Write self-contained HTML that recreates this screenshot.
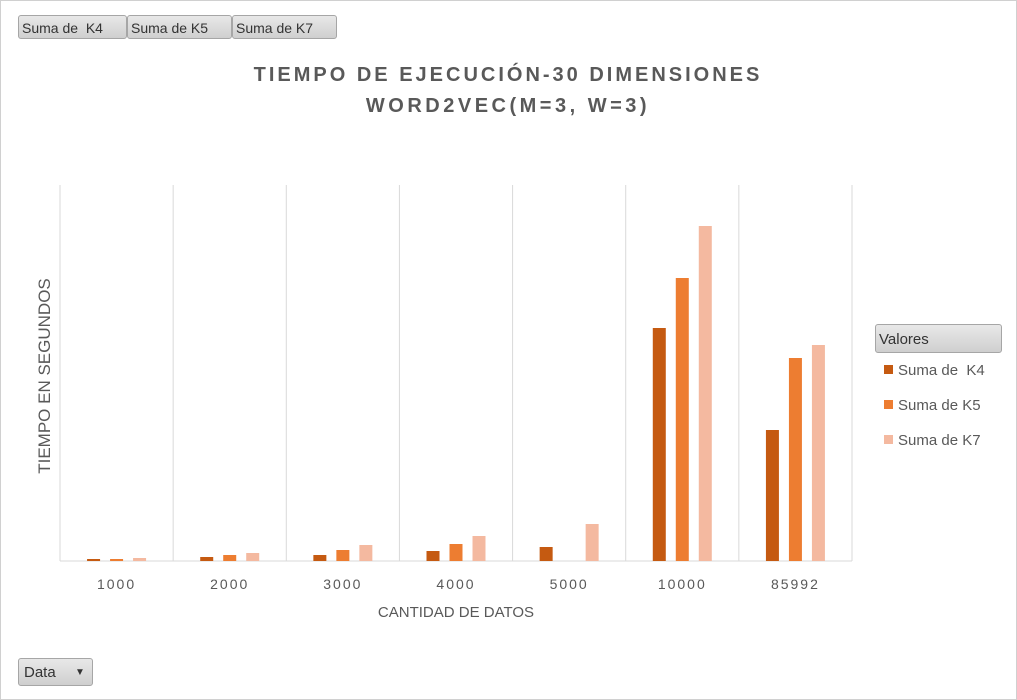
<!DOCTYPE html>
<html><head><meta charset="utf-8"><style>
body{margin:0;width:1017px;height:700px;background:#fff;font-family:"Liberation Sans",sans-serif;overflow:hidden}
#frame{position:absolute;left:0;top:0;width:1015px;height:698px;border:1px solid #d0d0d0}
.btn{position:absolute;height:24px;border:1px solid #a6a6a6;border-radius:3px;background:linear-gradient(#e8e8e8,#cfcfcf);font-size:14px;color:#333;line-height:24px;padding-left:3px;box-sizing:border-box}
</style></head><body>
<div id="frame"></div>
<div class="btn" style="left:18px;top:15px;width:109px">Suma de &nbsp;K4</div>
<div class="btn" style="left:127px;top:15px;width:105px">Suma de K5</div>
<div class="btn" style="left:232px;top:15px;width:105px">Suma de K7</div>
<div class="btn" style="left:875px;top:324px;width:127px;height:29px;line-height:29px;font-size:15px">Valores</div>
<div class="btn" style="left:18px;top:658px;width:75px;height:28px;line-height:28px;font-size:15px;padding-left:5px">Data <span style="position:absolute;left:56px;font-size:10px">&#9660;</span></div>
<svg id="chart" width="1017" height="700" style="position:absolute;left:0;top:0">
<text x="508" y="81" text-anchor="middle" font-size="20" font-weight="bold" fill="#595959" letter-spacing="3">TIEMPO DE EJECUCIÓN-30 DIMENSIONES</text>
<text x="508" y="112" text-anchor="middle" font-size="20" font-weight="bold" fill="#595959" letter-spacing="3.5">WORD2VEC(M=3, W=3)</text>
<text x="456" y="617" text-anchor="middle" font-size="15" fill="#595959">CANTIDAD DE DATOS</text>
<text transform="translate(50,376) rotate(-90)" text-anchor="middle" font-size="17" fill="#595959">TIEMPO EN SEGUNDOS</text>
<g id="g"></g>
</svg>
<script>
const categories=["1000","2000","3000","4000","5000","10000","85992"];
const k4=[2,4,6,10,14,233,131];
const k5=[2,6,11,17,0,283,203];
const k7=[3,8,16,25,37,335,216];
const seriesNames=["Suma de  K4","Suma de K5","Suma de K7"];
const colors=["#c55a11","#ed7d31","#f4b9a0"];
const L=60,R=852,T=185,B=561,maxV=376;
const bw=(R-L)/categories.length;
const x=i=>L+bw*(i+0.5);
const y=v=>B-(v/maxV)*(B-T);
const g=document.getElementById('g');
const NS="http://www.w3.org/2000/svg";
function mk(t,a){const e=document.createElementNS(NS,t);for(const k in a)e.setAttribute(k,a[k]);g.appendChild(e);return e;}
for(let i=0;i<=categories.length;i++){const l=mk('line',{x1:L+bw*i,x2:L+bw*i,y1:T,y2:B,stroke:'#d9d9d9'});

}
const ax=mk('line',{x1:L,x2:R,y1:B,y2:B,stroke:'#d9d9d9'});


[k4,k5,k7].forEach((s,si)=>{s.forEach((v,i)=>{const r=mk('rect',{x:x(i)+(si-1)*23-6.5,y:y(v),width:13,height:B-y(v),fill:colors[si]});

});});
categories.forEach((c,i)=>{const t=mk('text',{x:x(i),y:589,'text-anchor':'middle','font-size':14,fill:'#595959','letter-spacing':2});t.textContent=c;

});
seriesNames.forEach((n,i)=>{const r=mk('rect',{x:884,y:365+i*35,width:9,height:9,fill:colors[i]});


const t=mk('text',{x:898,y:375+i*35,'font-size':15,fill:'#595959',style:'white-space:pre'});t.textContent=n;

});
</script>
</body></html>
